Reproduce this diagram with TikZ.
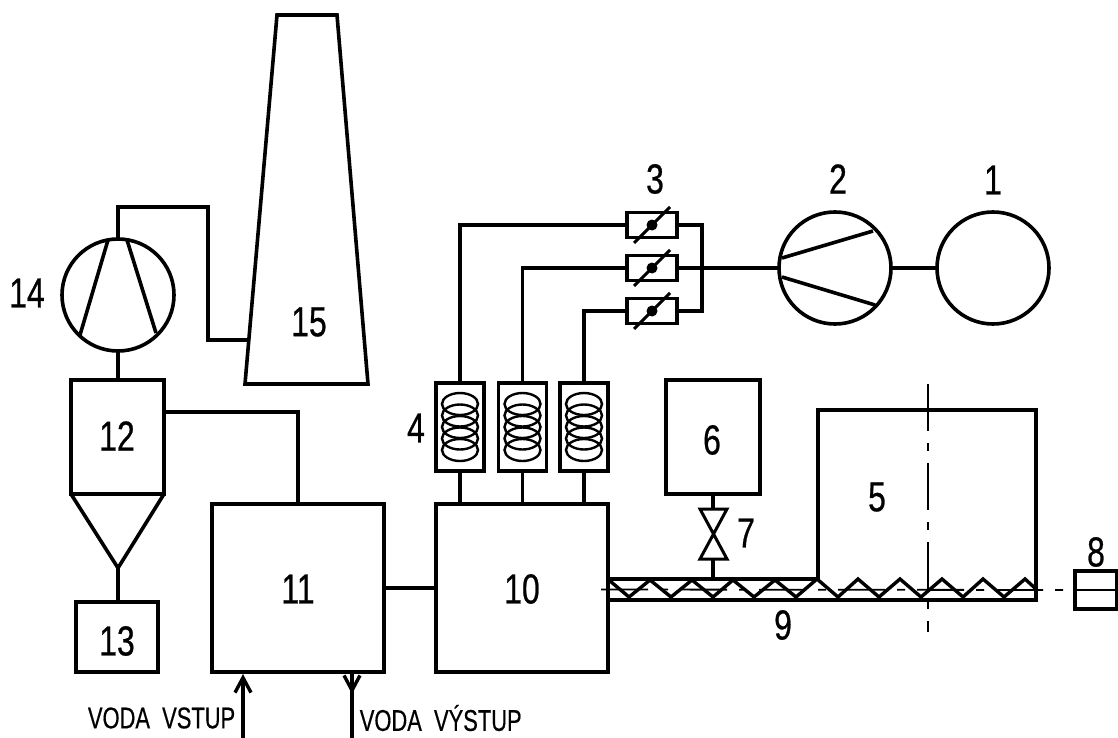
\documentclass[tikz,border=0pt]{standalone}
\usepackage{xcolor}
\usepackage{fontspec}
\usepackage{tikz}
\usetikzlibrary{arrows.meta,positioning,calc}
\newfontfamily\cadfont[FakeStretch=0.76,FakeBold=0.6]{Liberation Sans}
\newfontfamily\cadtext[FakeStretch=0.73,FakeBold=0.4]{Liberation Sans}
\begin{document}
\begin{tikzpicture}[x=1pt,y=-1pt,line join=miter,line width=3.6pt,>={Straight Barb[length=15pt,width=16pt,line width=3.4pt]},
box/.style={draw,inner sep=0pt,outer sep=0pt,minimum width=#1},
box/.default=94pt,
num/.style={inner sep=0pt,font=\cadfont\fontsize{42}{42}\selectfont},
txt/.style={inner sep=0pt,font=\cadtext\fontsize{30}{30}\selectfont},
axis/.style={line width=1.8pt,dash pattern=on 47pt off 12pt on 8pt off 12pt},
wheel/.style={draw,circle,inner sep=0pt,outer sep=0pt,minimum size=112pt}]
\useasboundingbox (0,0) rectangle (1118,738);
% machines
\node[wheel] (tank1) at (993,268) {};
\node[wheel] (fan2) at (835,268) {};
\node[wheel] (fan14) at (118,295) {};
\node[box=172pt,minimum height=168pt] (boiler) at (522,588) {};
\node[box=172pt,minimum height=168pt] (hx) at (298,588) {};
\node[box=93pt,minimum height=114pt] (cyclone) at (117.5,437) {};
\node[box=82pt,minimum height=70pt] (ash) at (117,637) {};
\node[box=94pt,minimum height=114pt] (hopper) at (713,437) {};
\node[box=42pt,minimum height=38pt] (drive) at (1096,590) {};
% dampers and coils
\foreach \n/\yy in {a/225,b/268,c/311}{
  \node[box=50pt,minimum height=25pt] (damper\n) at (652,\yy) {};
  \fill (damper\n.center) circle (5.5pt);
  \draw[line width=3pt] ($(damper\n.center)+(-18,18)$) -- ($(damper\n.center)+(18,-18)$);
}
\foreach \n/\xx in {a/460,b/522.5,c/584}{
  \node[box=48pt,minimum height=88pt] (coil\n) at (\xx,427) {};
  \foreach \yy in {404,415.5,427,438.5,450}
    \draw[line width=2.4pt] (\xx,\yy) ellipse (18 and 11);
  \draw (coil\n.south) -- (coil\n.south|-boiler.north);
}
\draw (coila.north) |- (dampera.west);
\draw (coilb.north) |- (damperb.west);
\draw (coilc.north) |- (damperc.west);
\coordinate (busa) at (702,225);
\coordinate (busc) at (702,311);
\draw (dampera.east) -- (busa) -- (busc) -- (damperc.east);
\draw (damperb.east) -- (fan2.west);
\draw (fan2.east) -- (tank1.west);
% fan blades
\draw (782,258) -- (873,231);
\draw (782,277) -- (875,305);
\draw (108,240) -- (80,335);
\draw (127,240) -- (156,333);
% stack
\coordinate (stackA) at (277,15);
\coordinate (stackB) at (337,15);
\coordinate (stackC) at (368,384);
\coordinate (stackD) at (245,384);
\coordinate (stackjoin) at (249,340);
\draw (stackA) -- (stackB) -- (stackC) -- (stackD) -- cycle;
\draw (fan14.north) -- (118,207) -- (208,207) |- (stackjoin);
% flue gas path
\draw (fan14.south) -- (fan14.south|-cyclone.north);
\draw ($(cyclone.north west)+(0,114)$) coordinate (conel) -- (118,568) coordinate (conetip) -- (cyclone.south east) coordinate (coner);
\draw (conetip) -- (conetip|-ash.north);
\draw (164,412) -| (hx.north);
\draw (hx.east) -- (boiler.west);
% water
\coordinate (inlet) at (243,738);
\coordinate (outlet) at (352,738);
\draw[->] (inlet) -- (243,674);
\draw[->] (352,672) -- (352,694);
\draw (352,690) -- (outlet);
% feeder and silo
\coordinate (siloA) at (818,579);
\coordinate (siloB) at (1036,600);
\draw (boiler.east|-siloA) -- (siloA) -- (818,410) -- (1036,410) -- (siloB) -- (boiler.east|-siloB);
\draw[line width=3.4pt] (610,581) -- (629,597) -- (650,580) -- (671,597) -- (692,580) -- (713,597) -- (733,580) -- (754,597) -- (775,580) -- (796,597) -- (817,579)
  -- (838,597) -- (858,579) -- (879,597) -- (900,579) -- (921,597) -- (942,579) -- (963,597) -- (983,579) -- (1004,597) -- (1025,579) -- (1036,589);
\draw[axis] (601,589.5) -- (drive.west);
\draw[line width=1.8pt] (drive.west) -- (drive.east);
\draw[axis] (928,384) -- (928,632);
% valve
\coordinate (vtop) at (713,509);
\coordinate (vbot) at (713,559);
\draw (hopper.south) -- (vtop);
\draw[line width=3pt] (700,509) -- (727,509) -- (700,559) -- (727,559) -- cycle;
\draw (vbot) -- (713,579);
% labels
\node[num] (n1) at (993,180) {1};
\node[num] (n2) at (838,179) {2};
\node[num] (n3) at (655,179) {3};
\node[num] (n4) at (416,428) {4};
\node[num] (n5) at (877,497) {5};
\node[num] (n6) at (712,440) {6};
\node[num] (n7) at (746,533) {7};
\node[num] (n8) at (1096,552) {8};
\node[num] (n9) at (783,625) {9};
\node[num] (n10) at (522,589) {10};
\node[num] (n11) at (298,589) {11};
\node[num] (n12) at (117,436) {12};
\node[num] (n13) at (117,641) {13};
\node[num] (n14) at (27,293) {14};
\node[num] (n15) at (309,322) {15};
\node[txt,anchor=east] (vin) at (237,718) {VODA\ \ VSTUP};
\node[txt,anchor=west] (vout) at (358,718) {VODA\ \ VÝSTUP};
\end{tikzpicture}
\end{document}
